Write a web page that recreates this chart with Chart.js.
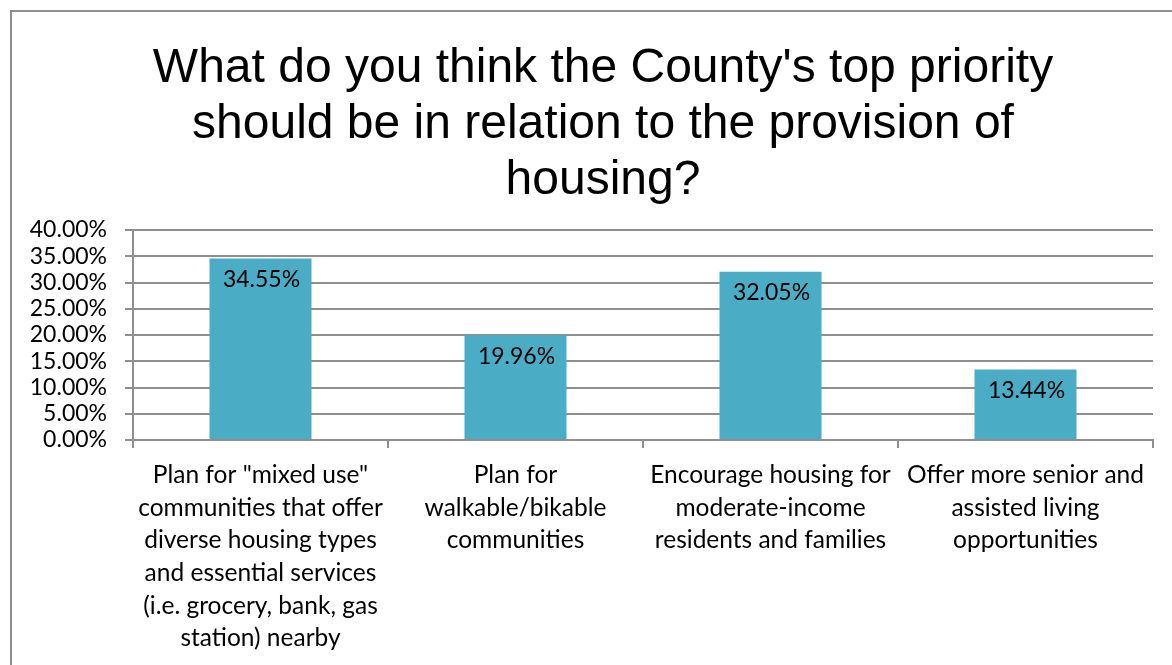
<!DOCTYPE html>
<html>
<head>
<meta charset="utf-8">
<script src="https://cdn.jsdelivr.net/npm/chart.js@4/dist/chart.umd.min.js"></script>
<style>
  html, body { margin: 0; padding: 0; background: #fff; overflow: hidden; }
  #frame {
    position: absolute; left: 10px; top: 10px;
    width: 1186px; height: 700px;
    border: 2px solid #8f8f8f; box-sizing: border-box;
  }
  #wrap { position: absolute; left: 0; top: 11px; width: 1195px; height: 654px; }
</style>
</head>
<body>
<div id="frame"></div>
<div id="wrap"><canvas id="myChart"></canvas></div>
<script>
var titleLines = [
    "What do you think the County's top priority",
    "should be in relation to the provision of",
    "housing?"
];
var categories = [
    ["Plan for \"mixed use\"", "communities that offer", "diverse housing types", "and essential services", "(i.e. grocery, bank, gas", "station) nearby"],
    ["Plan for", "walkable/bikable", "communities"],
    ["Encourage housing for", "moderate-income", "residents and families"],
    ["Offer more senior and", "assisted living", "opportunities"]
];
var shares = [34.55, 19.96, 32.05, 13.44];
var yTicks = [0, 5, 10, 15, 20, 25, 30, 35, 40];

var numFont = { family: 'Lato', size: 23 };
var gridGray = '#8f8f8f';

// title centred on the whole frame rather than on the plot
var frameTitle = {
    id: 'frameTitle',
    afterDraw: function (chart) {
        var ctx = chart.ctx;
        var cx = 603, top = 58, step = 55.7;
        ctx.save();
        ctx.font = '48px "Liberation Sans"';
        ctx.fillStyle = '#000';
        ctx.textAlign = 'center';
        ctx.textBaseline = 'middle';
        titleLines.forEach(function (line, i) {
            ctx.fillText(line, cx, top + i * step);
        });
        ctx.restore();
    }
};

// writes the percentage just inside the top of every bar
var valueLabels = {
    id: 'valueLabels',
    afterDatasetsDraw: function (chart) {
        var ctx = chart.ctx;
        var meta = chart.getDatasetMeta(0);
        ctx.save();
        ctx.font = numFont.size + 'px ' + numFont.family;
        ctx.fillStyle = '#000';
        ctx.textAlign = 'center';
        ctx.textBaseline = 'middle';
        meta.data.forEach(function (bar, i) {
            ctx.fillText(shares[i].toFixed(2) + '%', bar.x + 1, bar.y + 21);
        });
        ctx.restore();
    }
};

var ctx = document.getElementById('myChart').getContext('2d');
var chart = new Chart(ctx, {
    type: 'bar',
    data: {
        labels: categories,
        datasets: [{
            data: shares,
            backgroundColor: '#4bacc6',
            borderWidth: 0,
            barPercentage: 0.4,
            categoryPercentage: 1
        }]
    },
    options: {
        responsive: true,
        maintainAspectRatio: false,
        animation: false,
        layout: { padding: { left: 11, right: 42, top: 219, bottom: 0 } },
        plugins: {
            legend: { display: false },
            tooltip: { enabled: false },
            title: { display: false }
        },
        scales: {
            x: {
                offset: true,
                grid: { display: true, drawOnChartArea: false, tickLength: 8, color: gridGray, lineWidth: 2 },
                border: { color: gridGray, width: 2 },
                ticks: {
                    color: '#000',
                    font: { family: 'Lato', size: 24.5, lineHeight: 1.33 },
                    maxRotation: 0,
                    autoSkip: false,
                    padding: 11
                },
                afterFit: function (scale) { scale.height = 225; }
            },
            y: {
                min: 0,
                max: 40,
                afterBuildTicks: function (scale) {
                    scale.ticks = yTicks.map(function (v) { return { value: v }; });
                },
                grid: { color: gridGray, lineWidth: 2, tickLength: 8 },
                border: { color: gridGray, width: 2 },
                ticks: {
                    color: '#000',
                    font: { family: numFont.family, size: numFont.size },
                    autoSkip: false,
                    padding: 18,
                    callback: function (v) { return v.toFixed(2) + '%'; }
                },
                afterFit: function (scale) { scale.width = 122; }
            }
        }
    },
    plugins: [valueLabels, frameTitle]
});
</script>
</body>
</html>
